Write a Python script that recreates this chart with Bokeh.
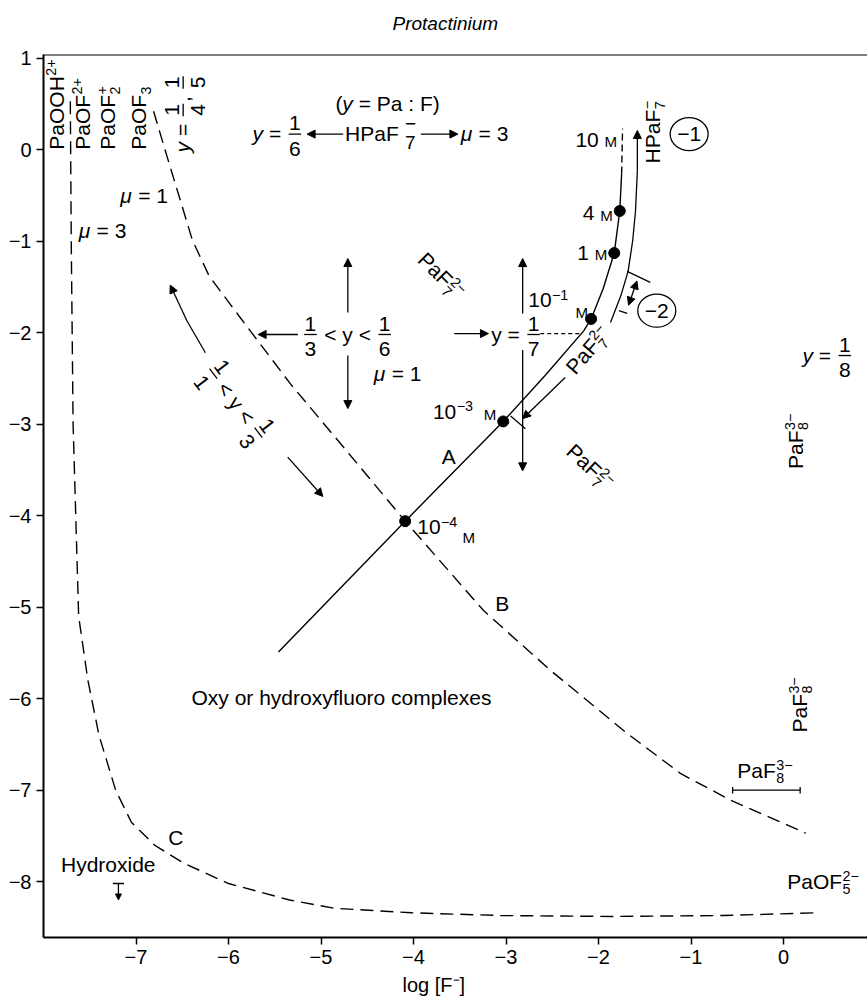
import math

from bokeh.core.properties import value
from bokeh.embed import file_html
from bokeh.models import (Arrow, CustomJSTickFormatter, FixedTicker, NormalHead,
                          Range1d, Span, Title)
from bokeh.plotting import figure
from bokeh.resources import INLINE

FONT = "Liberation Sans"
FS = 21

# ---------------------------------------------------------------- data
x_ticks = [-7, -6, -5, -4, -3, -2, -1, 0]
y_ticks = [1, 0, -1, -2, -3, -4, -5, -6, -7, -8]

# path A: total Pa against free fluoride, with the marked concentrations
conc_x = [-4.09, -3.03, -2.08, -1.83, -1.77]
conc_y = [-4.06, -2.97, -1.85, -1.13, -0.67]
path_a_x = [-5.46, -4.09, -3.03, -2.57, -2.16, -2.08, -1.95, -1.83, -1.77, -1.75]
path_a_y = [-5.49, -4.06, -2.97, -2.46, -1.98, -1.85, -1.52, -1.13, -0.67, -0.26]
path_a_ext_x = [-1.75, -1.74]
path_a_ext_y = [-0.26, 0.23]

# path followed by the PaF7(2-) -> HPaF7(-) change
outer_x = [-1.87, -1.76, -1.68, -1.63, -1.60, -1.58]
outer_y = [-1.89, -1.60, -1.33, -0.99, -0.67, -0.23]

# boundary B
curve_b_x = [-6.81, -6.66, -6.39, -6.21, -5.87, -5.33, -4.70, -4.09, -3.24,
             -2.52, -1.69, -1.11, -0.57, 0.24]
curve_b_y = [0.42, -0.09, -0.99, -1.38, -1.84, -2.56, -3.32, -4.06, -5.04,
             -5.69, -6.38, -6.82, -7.11, -7.47]

# boundary C (hydroxide)
curve_c_x = [-7.71, -7.70, -7.68, -7.62, -7.52, -7.40, -7.22, -7.05, -6.80,
             -6.48, -6.00, -5.34, -4.86, -4.02, -3.06, -1.86, -0.66, 0.36]
curve_c_y = [0.53, -1.00, -3.00, -5.10, -5.80, -6.40, -7.00, -7.35, -7.60,
             -7.80, -8.02, -8.20, -8.29, -8.34, -8.37, -8.38, -8.37, -8.34]

# ---------------------------------------------------------------- frame
X0, X1 = -8.0, 0.908
Y0, Y1 = -8.61, 1.04
FW, FH = 824, 883
SX = FW / (X1 - X0)
SY = FH / (Y1 - Y0)

p = figure(frame_width=FW, frame_height=FH,
           x_range=Range1d(X0, X1), y_range=Range1d(Y0, Y1),
           output_backend="svg", toolbar_location=None,
           min_border_left=43, min_border_right=0, min_border_top=54,
           min_border_bottom=65, outline_line_color=None,
           background_fill_color="white", border_fill_color="white")
p.grid.visible = False

fmt = CustomJSTickFormatter(
    code="return tick < 0 ? '\u2212' + Math.abs(tick) : String(tick);")
p.xaxis.ticker = FixedTicker(ticks=x_ticks)
p.yaxis.ticker = FixedTicker(ticks=y_ticks)
for ax in (p.xaxis[0], p.yaxis[0]):
    ax.formatter = fmt
    ax.major_tick_in = 0
    ax.major_tick_out = 7
    ax.major_tick_line_width = 1.5
    ax.major_tick_line_color = "black"
    ax.minor_tick_line_color = None
    ax.axis_line_width = 2
    ax.axis_line_color = "black"
    ax.major_label_text_font = FONT
    ax.major_label_text_font_size = "20px"
    ax.major_label_text_color = "black"
    ax.major_label_standoff = 5

p.add_layout(Span(location=Y1, dimension="width", line_color="black",
                  line_width=2))

# blank band between the frame and the title
p.add_layout(Title(text=" ", text_font=FONT, text_font_size="16px",
                   standoff=2), "above")

p.title.text = "Protactinium"
p.title.text_font = FONT
p.title.text_font_style = "italic"
p.title.text_font_size = "19px"
p.title.text_color = "black"
p.title.align = "left"
p.title.offset = 349
p.title.standoff = 0

p.add_layout(Title(text="log [F\u207b]", align="left", offset=359,
                   text_font=FONT, text_font_size="20px", text_color="black",
                   text_font_style="normal"), "below")

# ---------------------------------------------------------------- text helpers
W = {" ": 278, "(": 333, ")": 333, ",": 278, ".": 278, ":": 278, "[": 278,
     "]": 278, "<": 584, "=": 584, "+": 584, "\u2212": 584, "-": 333,
     "A": 667, "B": 667, "C": 722, "F": 611, "H": 722, "M": 833, "O": 778,
     "P": 667, "a": 556, "c": 500, "d": 556, "e": 556, "f": 278, "g": 556,
     "h": 556, "i": 222, "l": 222, "m": 833, "n": 556, "o": 556, "p": 556,
     "r": 333, "s": 500, "t": 278, "u": 556, "x": 500, "y": 500, "\u03bc": 576}
BASE_FIX = 0.32   # raise applied to alphabetic baselines (fraction of size)


def tw(s, size):
    return sum(W.get(c, 556) for c in s) * size / 1000.0


def shift(x, y, u, v, ang):
    c, s = math.cos(ang), math.sin(ang)
    return x + (u * c - v * s) / SX, y + (u * s + v * c) / SY


def txt(x, y, s, size=FS, ang=0.0, align="left", baseline="alphabetic",
        style="normal"):
    if baseline == "alphabetic":
        x, y = shift(x, y, 0.0, BASE_FIX * size, ang)
    p.text(x=[x], y=[y], text=[s], angle=ang, text_font=value(FONT),
           text_font_size=f"{size:.1f}px", text_align=align,
           text_baseline=baseline, text_font_style=style, text_color="black")


def run(x, y, items, size=FS, ang=0.0, align="left"):
    """Lay out a formula: plain text, stacked super/subscripts, fractions."""
    sc = 0.68 * size
    sm = 0.72 * size
    sb = 0.9 * size
    ws = []
    for it in items:
        k = it[0]
        if k in ("t", "i"):
            ws.append(tw(it[1], size))
        elif k == "m":
            ws.append(tw(it[1], sm))
        elif k == "s":
            ws.append(max(tw(it[1], sc), tw(it[2], sc)) + 0.05 * size)
        elif k == "S":
            ws.append(max(tw(it[1], sb), tw(it[2], sb)) + 0.05 * size)
        elif k == "f":
            ws.append(max(tw(it[1], size), tw(it[2], size)) + 0.2 * size)
    total = sum(ws)
    u = {"left": 0.0, "center": -total / 2, "right": -total}[align]
    vb = -0.30 * size
    for it, w in zip(items, ws):
        k = it[0]
        if k in ("t", "i"):
            s = it[1]
            lead = tw(s[: len(s) - len(s.lstrip(" "))], size)
            px, py = shift(x, y, u + lead, vb, ang)
            txt(px, py, s.strip(" "), size, ang,
                style="italic" if k == "i" else "normal")
        elif k == "m":
            px, py = shift(x, y, u, vb, ang)
            txt(px, py, it[1], sm, ang)
        elif k == "s":
            if it[1]:
                px, py = shift(x, y, u + 0.02 * size, vb + 0.36 * size, ang)
                txt(px, py, it[1], sc, ang)
            if it[2]:
                px, py = shift(x, y, u + 0.02 * size, vb - 0.26 * size, ang)
                txt(px, py, it[2], sc, ang)
        elif k == "S":
            px, py = shift(x, y, u + 0.02 * size, vb + 0.50 * size, ang)
            txt(px, py, it[1], sb, ang)
            px, py = shift(x, y, u + 0.02 * size, vb - 0.40 * size, ang)
            txt(px, py, it[2], sb, ang)
        elif k == "f":
            mid = u + w / 2
            px, py = shift(x, y, mid, 0.2 * size, ang)
            txt(px, py, it[1], size, ang, align="center")
            px, py = shift(x, y, mid, -1.02 * size, ang)
            txt(px, py, it[2], size, ang, align="center")
            a = shift(x, y, u + 0.08 * size, 0, ang)
            b = shift(x, y, u + w - 0.08 * size, 0, ang)
            p.line([a[0], b[0]], [a[1], b[1]], line_color="black", line_width=1.3)
        u += w


def arrow(x0, y0, x1, y1, both=False, size=8):
    def head():
        return NormalHead(size=size, fill_color="black", line_color="black",
                          line_width=1)
    p.add_layout(Arrow(start=head() if both else None, end=head(),
                       x_start=x0, y_start=y0, x_end=x1, y_end=y1,
                       line_color="black", line_width=1.3))


def seg(x0, y0, x1, y1, w=1.3):
    p.line([x0, x1], [y0, y1], line_color="black", line_width=w)


# ---------------------------------------------------------------- curves
p.line(curve_b_x, curve_b_y, line_color="black", line_width=1.4, line_dash="13 7")
p.line(curve_c_x, curve_c_y, line_color="black", line_width=1.4, line_dash="13 7")
p.line(path_a_x, path_a_y, line_color="black", line_width=1.4)
p.line(path_a_ext_x, path_a_ext_y, line_color="black", line_width=1.4,
       line_dash="7 4")
p.scatter(conc_x, conc_y, size=11, fill_color="black", line_color="black")

# PaF7(2-) -> HPaF7(-) path beside A
p.line(outer_x, outer_y, line_color="black", line_width=1.3)
arrow(outer_x[-1], outer_y[-1], -1.58, 0.21)
arrow(-2.36, -2.49, -2.82, -2.94)
seg(-2.95, -2.91, -2.79, -3.05)
seg(-1.69, -1.33, -1.44, -1.45)
seg(-1.78, -1.76, -1.69, -1.79)
arrow(-1.585, -1.435, -1.675, -1.70, both=True)

# y = 1/7 guide
p.line([-2.63, -2.19], [-2.01, -2.01], line_color="black", line_width=1.2,
       line_dash="4 3")

# ---------------------------------------------------------------- labels, upper left
run(-7.86, 0.0, [("t", "PaOOH"), ("s", "2+", "")], ang=math.pi / 2)
run(-7.57, 0.0, [("t", "PaOF"), ("s", "2+", "")], ang=math.pi / 2)
run(-7.30, 0.0, [("t", "PaOF"), ("s", "+", "2")], ang=math.pi / 2)
run(-6.97, 0.0, [("t", "PaOF"), ("s", "", "3")], ang=math.pi / 2)
run(-6.49, -0.03, [("i", "y"), ("t", " = "), ("f", "1", "4"), ("t", ", "),
                   ("f", "1", "5")], ang=math.pi / 2)
run(-7.17, -0.51, [("i", "\u03bc"), ("t", " = 1")])
run(-7.62, -0.89, [("i", "\u03bc"), ("t", " = 3")])

# header rows
run(-4.28, 0.50, [("t", "("), ("i", "y"), ("t", " = Pa : F)")], align="center")
run(-5.74, 0.17, [("i", "y"), ("t", " = "), ("f", "1", "6")])
arrow(-4.76, 0.17, -5.15, 0.17)
run(-4.74, 0.17, [("t", "HPaF "), ("S", "\u2212", "7")])
arrow(-3.92, 0.17, -3.52, 0.17)
run(-3.49, 0.17, [("i", "\u03bc"), ("t", " = 3")])

# middle region
run(-5.20, -2.02, [("f", "1", "3"), ("t", " < y < "), ("f", "1", "6")])
arrow(-5.25, -2.02, -5.68, -2.02)
arrow(-4.71, -1.78, -4.71, -1.19)
arrow(-4.71, -2.25, -4.71, -2.83)
run(-4.43, -2.45, [("i", "\u03bc"), ("t", " = 1")])

run(-3.16, -2.02, [("t", "y = "), ("f", "1", "7")])
arrow(-3.56, -2.01, -3.19, -2.01)
arrow(-2.82, -1.79, -2.82, -1.19)
arrow(-2.82, -2.19, -2.82, -3.51)

run(-5.92, -2.77, [("f", "1", "1"), ("t", " < y < "), ("f", "1", "3")],
    ang=-0.918, align="center")
p.line([-6.25, -6.45], [-2.22, -1.87], line_color="black", line_width=1.3)
arrow(-6.45, -1.87, -6.63, -1.48)
arrow(-5.36, -3.36, -4.98, -3.79)

run(-3.70, -1.38, [("t", "PaF"), ("s", "2\u2212", "7")], ang=-math.pi / 4,
    align="center")
run(-2.09, -3.47, [("t", "PaF"), ("s", "2\u2212", "7")], ang=-0.75,
    align="center")
run(-2.11, -2.19, [("t", "PaF"), ("s", "2\u2212", "7")], ang=0.86,
    align="center")
run(-1.41, -0.15, [("t", "HPaF"), ("s", "\u2212", "7")], ang=math.pi / 2)

# concentrations along A
run(-2.25, 0.10, [("t", "10 "), ("m", "M")])
run(-2.17, -0.70, [("t", "4 "), ("m", "M")])
run(-2.23, -1.13, [("t", "1 "), ("m", "M")])
run(-2.76, -1.65, [("t", "10"), ("s", "\u22121", "")])
run(-2.25, -1.76, [("m", "M")])
run(-3.79, -2.87, [("t", "10"), ("s", "\u22123", "")])
run(-3.24, -2.88, [("m", "M")])
run(-3.96, -4.13, [("t", "10"), ("s", "\u22124", "")])
run(-3.47, -4.22, [("m", "M")])

# circled charges
p.ellipse(x=[-1.02, -1.37], y=[0.17, -1.76], width=38 / SX, height=33 / SY,
          fill_color=None, line_color="black", line_width=1.3)
txt(-1.02, 0.17, "\u22121", FS, align="center", baseline="middle")
txt(-1.37, -1.76, "\u22122", FS, align="center", baseline="middle")

# region letters and names
run(-3.62, -3.36, [("t", "A")], align="center")
run(-3.04, -4.96, [("t", "B")], align="center")
run(-6.57, -7.52, [("t", "C")], align="center")
run(-6.40, -5.99, [("t", "Oxy or hydroxyfluoro complexes")])
run(-7.30, -7.82, [("t", "Hydroxide")], align="center")
seg(-7.25, -8.02, -7.13, -8.02)
arrow(-7.19, -8.02, -7.19, -8.20, size=6)

# right-hand side
run(0.205, -2.25, [("i", "y"), ("t", " = "), ("f", "1", "8")])
run(0.13, -3.49, [("t", "PaF"), ("s", "3\u2212", "8")], ang=math.pi / 2)
run(0.18, -6.37, [("t", "PaF"), ("s", "3\u2212", "8")], ang=math.pi / 2)
run(-0.50, -6.79, [("t", "PaF"), ("s", "3\u2212", "8")])
seg(-0.55, -7.0, 0.18, -7.0)
seg(-0.55, -6.965, -0.55, -7.035)
seg(0.18, -6.965, 0.18, -7.035)
run(0.04, -8.0, [("t", "PaOF"), ("s", "2\u2212", "5")])

open("out.html", "w").write(file_html(p, INLINE))
